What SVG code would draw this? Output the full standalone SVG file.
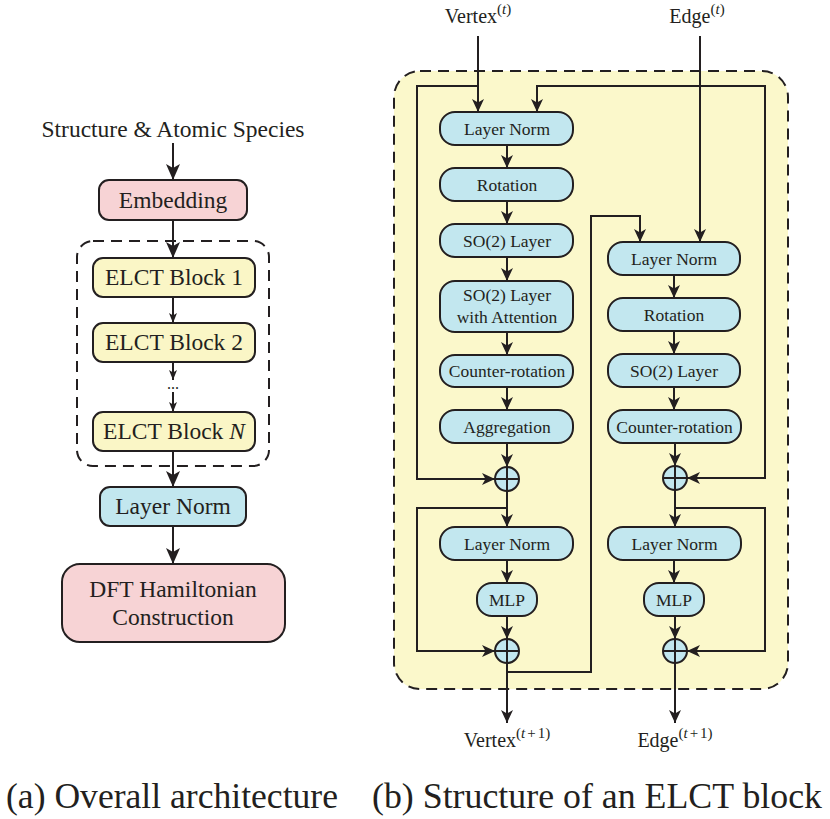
<svg xmlns="http://www.w3.org/2000/svg" width="830" height="819" viewBox="0 0 830 819" font-family="'Liberation Serif', 'Times New Roman', serif">
<style>
text{font-family:"Liberation Serif","Times New Roman",serif;fill:#231f20}
.l{font-size:23.5px;text-anchor:middle}
.r{font-size:17.5px;text-anchor:middle}
.io{font-size:20px;text-anchor:middle}
.cap{font-size:36px}
.box{stroke:#231f20;stroke-width:2}
.blue{fill:#c2e7ef}
.pink{fill:#f7d3d5}
.yel{fill:#faf6c6}
.w{fill:none;stroke:#231f20;stroke-width:2}
.dash{fill:none;stroke:#231f20;stroke-width:2;stroke-dasharray:11 7}
.a{marker-end:url(#ah)}
.aL{marker-end:url(#ahL)}
.aS{marker-end:url(#ahS)}
</style>
<defs>
<marker id="ah" markerWidth="14" markerHeight="14" refX="13" refY="7" orient="auto" markerUnits="userSpaceOnUse" viewBox="0 0 14 14"><path d="M0,1 L13,7 L0,13 L3.5,7 Z" fill="#231f20"/></marker>
<marker id="ahL" markerWidth="17" markerHeight="16" refX="16" refY="8" orient="auto" markerUnits="userSpaceOnUse" viewBox="0 0 17 16"><path d="M0,1 L16,8 L0,15 L4,8 Z" fill="#231f20"/></marker>
<marker id="ahS" markerWidth="11" markerHeight="10" refX="10" refY="5" orient="auto" markerUnits="userSpaceOnUse" viewBox="0 0 11 10"><path d="M0,1 L10,5 L0,9 L2.5,5 Z" fill="#231f20"/></marker>
</defs>
<rect width="830" height="819" fill="#ffffff"/>

<!-- backgrounds -->
<rect id="elct-stack" class="dash" x="77" y="241" width="192" height="225" rx="16"/>
<rect id="elct-block-frame" x="394" y="71" width="394" height="618" rx="26" fill="#fbf8cb" stroke="#231f20" stroke-width="2" stroke-dasharray="11 7"/>

<!-- connectors -->
<g id="connectors">
<line class="w aL" x1="173" y1="143" x2="173" y2="180"/>
<line class="w aL" x1="173" y1="220" x2="173" y2="258"/>
<line class="w aS" x1="173" y1="297" x2="173" y2="323"/>
<line class="w aS" x1="173" y1="362" x2="173" y2="380"/>
<line class="w aS" x1="173" y1="392" x2="173" y2="412"/>
<line class="w aL" x1="173" y1="451" x2="173" y2="487"/>
<line class="w aL" x1="173" y1="526" x2="173" y2="564"/>

<line class="w a" x1="478" y1="36" x2="478" y2="112"/>
<polyline class="w a" points="478,86 417,86 417,479 495,479"/>
<line class="w a" x1="700" y1="36" x2="700" y2="242"/>
<polyline class="w a" points="700,86 537,86 537,112"/>
<polyline class="w a" points="700,86 765,86 765,478 687,478"/>

<line class="w a" x1="507" y1="145" x2="507" y2="168"/>
<line class="w a" x1="507" y1="201" x2="507" y2="224"/>
<line class="w a" x1="507" y1="257" x2="507" y2="281"/>
<line class="w a" x1="507" y1="332" x2="507" y2="355"/>
<line class="w a" x1="507" y1="387" x2="507" y2="410"/>
<line class="w a" x1="507" y1="443" x2="507" y2="467"/>
<line class="w a" x1="507" y1="491" x2="507" y2="527"/>
<polyline class="w a" points="507,508 417,508 417,651 495,651"/>
<line class="w a" x1="507" y1="560" x2="507" y2="583"/>
<line class="w a" x1="507" y1="616" x2="507" y2="639"/>
<line class="w a" x1="507" y1="663" x2="507" y2="723"/>
<polyline class="w a" points="507,672 591,672 591,216 640,216 640,242"/>

<line class="w a" x1="674" y1="275" x2="674" y2="298"/>
<line class="w a" x1="674" y1="331" x2="674" y2="354"/>
<line class="w a" x1="674" y1="387" x2="674" y2="410"/>
<line class="w a" x1="675" y1="443" x2="675" y2="466"/>
<line class="w a" x1="675" y1="490" x2="675" y2="527"/>
<polyline class="w a" points="675,508 765,508 765,651 687,651"/>
<line class="w a" x1="674" y1="560" x2="674" y2="583"/>
<line class="w a" x1="675" y1="616" x2="675" y2="639"/>
<line class="w a" x1="675" y1="663" x2="675" y2="723"/>
</g>

<!-- left panel -->
<text id="input-label" class="l" x="173" y="137">Structure &amp; Atomic Species</text>
<g id="embedding"><rect class="box pink" x="99" y="180" width="148" height="40" rx="10"/><text class="l" x="173" y="208">Embedding</text></g>
<g id="elct1"><rect class="box yel" x="93" y="258" width="162" height="39" rx="10"/><text class="l" x="174" y="285">ELCT Block 1</text></g>
<g id="elct2"><rect class="box yel" x="93" y="323" width="162" height="39" rx="10"/><text class="l" x="174" y="350">ELCT Block 2</text></g>
<text id="dots" x="173" y="389" font-size="16" text-anchor="middle">...</text>
<g id="elctN"><rect class="box yel" x="93" y="412" width="162" height="39" rx="10"/><text class="l" x="174" y="439">ELCT Block <tspan font-style="italic">N</tspan></text></g>
<g id="layernorm-out"><rect class="box blue" x="100" y="487" width="146" height="39" rx="10"/><text class="l" x="173" y="514">Layer Norm</text></g>
<g id="dft"><rect class="box pink" x="62" y="564" width="223" height="78" rx="18"/><text class="l" x="173" y="597">DFT Hamiltonian</text><text class="l" x="173" y="625">Construction</text></g>

<!-- right panel: labels -->
<text id="vertex-in" class="io" x="478" y="23">Vertex<tspan dy="-9" font-size="15">(<tspan font-style="italic">t</tspan>)</tspan></text>
<text id="edge-in" class="io" x="697" y="23">Edge<tspan dy="-9" font-size="15">(<tspan font-style="italic">t</tspan>)</tspan></text>
<text id="vertex-out" class="io" x="507" y="747">Vertex<tspan dy="-9" font-size="15">(<tspan font-style="italic">t</tspan><tspan dx="2">+</tspan><tspan dx="2">1)</tspan></tspan></text>
<text id="edge-out" class="io" x="675" y="747">Edge<tspan dy="-9" font-size="15">(<tspan font-style="italic">t</tspan><tspan dx="2">+</tspan><tspan dx="2">1)</tspan></tspan></text>

<!-- vertex column -->
<g id="v-ln1"><rect class="box blue" x="440" y="112" width="133" height="33" rx="15"/><text class="r" x="507" y="134.5">Layer Norm</text></g>
<g id="v-rot"><rect class="box blue" x="440" y="168" width="133" height="33" rx="15"/><text class="r" x="507" y="190.5">Rotation</text></g>
<g id="v-so2"><rect class="box blue" x="440" y="224" width="133" height="33" rx="15"/><text class="r" x="507" y="246.5">SO(2) Layer</text></g>
<g id="v-so2att"><rect class="box blue" x="440" y="281" width="133" height="51" rx="15"/><text class="r" x="507" y="300.5">SO(2) Layer</text><text class="r" x="507" y="322.5">with Attention</text></g>
<g id="v-crot"><rect class="box blue" x="440" y="355" width="133" height="32" rx="15"/><text class="r" x="507" y="377">Counter-rotation</text></g>
<g id="v-agg"><rect class="box blue" x="440" y="410" width="133" height="33" rx="15"/><text class="r" x="507" y="432.5">Aggregation</text></g>
<g id="v-add1"><circle class="box blue" cx="507" cy="479" r="12"/><path class="w" d="M495,479 H519 M507,467 V491"/></g>
<g id="v-ln2"><rect class="box blue" x="440" y="527" width="133" height="33" rx="15"/><text class="r" x="507" y="549.5">Layer Norm</text></g>
<g id="v-mlp"><rect class="box blue" x="477" y="583" width="60" height="33" rx="15"/><text class="r" x="507" y="605.5">MLP</text></g>
<g id="v-add2"><circle class="box blue" cx="507" cy="651" r="12"/><path class="w" d="M495,651 H519 M507,639 V663"/></g>

<!-- edge column -->
<g id="e-ln1"><rect class="box blue" x="608" y="242" width="132" height="33" rx="15"/><text class="r" x="674" y="264.5">Layer Norm</text></g>
<g id="e-rot"><rect class="box blue" x="608" y="298" width="132" height="33" rx="15"/><text class="r" x="674" y="320.5">Rotation</text></g>
<g id="e-so2"><rect class="box blue" x="608" y="354" width="132" height="33" rx="15"/><text class="r" x="674" y="376.5">SO(2) Layer</text></g>
<g id="e-crot"><rect class="box blue" x="608" y="410" width="133" height="33" rx="15"/><text class="r" x="674.5" y="432.5">Counter-rotation</text></g>
<g id="e-add1"><circle class="box blue" cx="675" cy="478" r="12"/><path class="w" d="M663,478 H687 M675,466 V490"/></g>
<g id="e-ln2"><rect class="box blue" x="608" y="527" width="133" height="33" rx="15"/><text class="r" x="674.5" y="549.5">Layer Norm</text></g>
<g id="e-mlp"><rect class="box blue" x="644" y="583" width="60" height="33" rx="15"/><text class="r" x="674" y="605.5">MLP</text></g>
<g id="e-add2"><circle class="box blue" cx="675" cy="651" r="12"/><path class="w" d="M663,651 H687 M675,639 V663"/></g>

<!-- captions -->
<text class="cap" x="6" y="808" textLength="332" lengthAdjust="spacingAndGlyphs">(a) Overall architecture</text>
<text class="cap" x="372" y="808" textLength="450" lengthAdjust="spacingAndGlyphs">(b) Structure of an ELCT block</text>
</svg>
